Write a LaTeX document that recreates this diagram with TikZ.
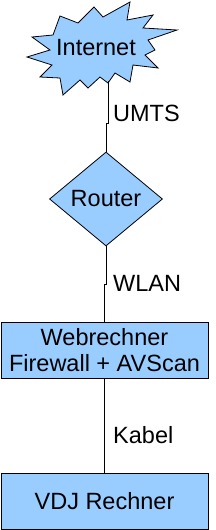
\documentclass[tikz,border=0pt]{standalone}
\usepackage{fontspec}
\setmainfont{Liberation Sans}
\usetikzlibrary{shapes.geometric}
\definecolor{lightblue}{RGB}{153,204,255}
\begin{document}
\begin{tikzpicture}[x=1pt,y=-1pt,
  shapefill/.style={fill=lightblue,draw=black,line width=0.8pt},
  lbl/.style={font=\fontsize{23.5}{27}\selectfont,inner sep=0pt},
  conn/.style={draw=black,line width=0.8pt},
  boxnode/.style={shapefill,rectangle,minimum width=207pt,minimum height=56pt,inner sep=0pt,align=center,font=\fontsize{23.5}{26}\selectfont}]
\useasboundingbox (0,0) rectangle (216,530);
% starburst
\draw[shapefill] (60,16) -- (78,23) -- (94,7) -- (103,17) -- (130,2) -- (127,20) -- (153,15) -- (143,28) -- (177,30) -- (148,40) -- (155,50) -- (145,55) -- (158,68) -- (133,65) -- (130,82) -- (115,73) -- (108,83) -- (100,77) -- (88,88) -- (80,80) -- (63,95) -- (60,78) -- (40,77) -- (52,65) -- (27,57) -- (50,50) -- (32,37) -- (53,35) -- cycle;
\node[lbl] (internet) at (96,48) {Internet};
\coordinate (burstbottom) at (108,81);
\node[shapefill,shape=diamond,aspect=1.2,inner sep=0pt,minimum width=113pt,minimum height=94pt] (routershape) at (106,199) {};
\node[lbl] (router) at (106,199) {Router};
\node[boxnode] (web) at (104.5,350) {Webrechner\\Firewall + AVScan};
\node[boxnode] (vdj) at (104.5,501) {VDJ Rechner};
\coordinate (j1) at (108,123);
\coordinate (j2) at (106,123);
\coordinate (j3) at (106,284);
\coordinate (j4) at (104.5,284);
\draw[conn] (burstbottom) -- (j1) -- (j2) -- (routershape.north);
\draw[conn] (routershape.south) -- (j3) -- (j4) -- (web.north);
\draw[conn] (web.south) -- (vdj.north);
\node[lbl,anchor=west] (umts) at (113,113) {UMTS};
\node[lbl,anchor=west] (wlan) at (113,283) {WLAN};
\node[lbl,anchor=west] (kabel) at (113,435) {Kabel};
\end{tikzpicture}
\end{document}
